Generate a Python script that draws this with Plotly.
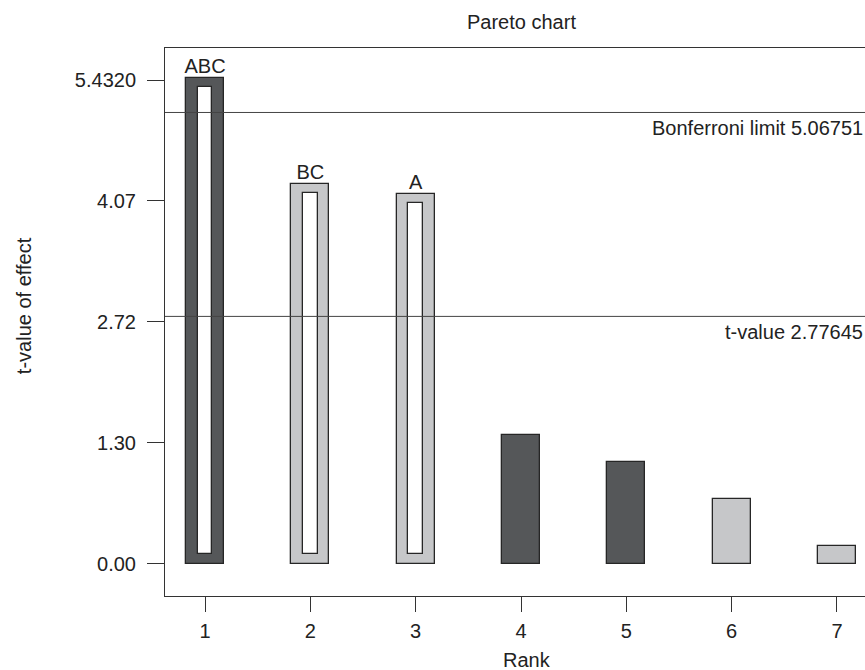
import plotly.graph_objects as go

ranks = [1, 2, 3, 4, 5, 6, 7]
t_values = [5.45, 4.264, 4.152, 1.44, 1.144, 0.725, 0.197]
effect_labels = ["ABC", "BC", "A", "", "", "", ""]
significant = [True, True, True, False, False, False, False]
positive = [False, True, True, False, False, True, True]

ytick_vals = [0.0, 1.358, 2.716, 4.074, 5.432]
ytick_text = ["0.00", "1.30", "2.72", "4.07", "5.4320"]
xtick_text = ["1", "2", "3", "4", "5", "6", "7"]

bonferroni_limit = 5.06751
t_limit = 2.77645

DARK = "#555759"
LIGHT = "#c6c7c9"
EDGE = "#262626"
FONT = "Liberation Sans, Arial, sans-serif"
TXT = "#222222"
FS = 20

bar_w = 0.36
inner_w = 0.14
inset_bottom = 0.105
inset_top = 0.10

fig = go.Figure()

fig.add_trace(go.Bar(
    x=ranks, y=t_values, width=bar_w,
    marker=dict(color=[LIGHT if p else DARK for p in positive],
                line=dict(color=EDGE, width=1.3)),
    hoverinfo="skip", showlegend=False,
))

sig_x = [r for r, s in zip(ranks, significant) if s]
sig_v = [v for v, s in zip(t_values, significant) if s]
fig.add_trace(go.Bar(
    x=sig_x, y=[v - inset_bottom - inset_top for v in sig_v],
    base=[inset_bottom] * len(sig_x), width=inner_w,
    marker=dict(color="white", line=dict(color=EDGE, width=1.3)),
    hoverinfo="skip", showlegend=False,
))

fig.add_trace(go.Scatter(
    x=ranks, y=t_values, mode="text", text=effect_labels,
    textposition="top center",
    textfont=dict(family=FONT, size=FS, color=TXT),
    hoverinfo="skip", showlegend=False, cliponaxis=False,
))

for val, lab in [(bonferroni_limit, "Bonferroni limit 5.06751"), (t_limit, "t-value 2.77645")]:
    fig.add_shape(type="line", xref="paper", x0=0, x1=1, yref="y", y0=val, y1=val,
                  line=dict(color="#444444", width=1), layer="above")
    fig.add_annotation(text=lab, xref="paper", x=1.0, xanchor="right",
                       yref="y", y=val, yanchor="top", yshift=-3, showarrow=False,
                       font=dict(family=FONT, size=FS, color=TXT))

fig.add_annotation(text="Pareto chart", xref="paper", x=0.509, xanchor="center",
                   yref="paper", y=1.047, yanchor="middle", showarrow=False,
                   font=dict(family=FONT, size=FS, color=TXT))
fig.add_annotation(text="t-value of effect", xref="paper", x=-0.2014, xanchor="center",
                   yref="paper", y=0.529, yanchor="middle", textangle=-90, showarrow=False,
                   font=dict(family=FONT, size=FS, color=TXT))
fig.add_annotation(text="Rank", xref="paper", x=0.517, xanchor="center",
                   yref="paper", y=-0.117, yanchor="middle", showarrow=False,
                   font=dict(family=FONT, size=FS, color=TXT))

fig.update_layout(
    width=865, height=670,
    margin=dict(l=165, r=0, t=48, b=74, pad=0),
    plot_bgcolor="white", paper_bgcolor="white",
    barmode="overlay", bargap=0,
    font=dict(family=FONT, size=FS, color=TXT),
    xaxis=dict(range=[0.62, 7.266], tickvals=ranks, ticktext=xtick_text,
               showgrid=False, zeroline=False, showline=True, mirror=True,
               linecolor="#333333", linewidth=1, ticks="outside", ticklen=15,
               tickcolor="#333333", tickwidth=1, ticklabelstandoff=2,
               tickfont=dict(family=FONT, size=FS, color=TXT)),
    yaxis=dict(range=[-0.365, 5.792], tickvals=ytick_vals, ticktext=ytick_text,
               showgrid=False, zeroline=False, showline=True, mirror=False,
               linecolor="#333333", linewidth=1, ticks="outside", ticklen=17,
               tickcolor="#333333", tickwidth=1, ticklabelstandoff=7,
               tickfont=dict(family=FONT, size=FS, color=TXT)),
)

fig.write_html("out.html")
